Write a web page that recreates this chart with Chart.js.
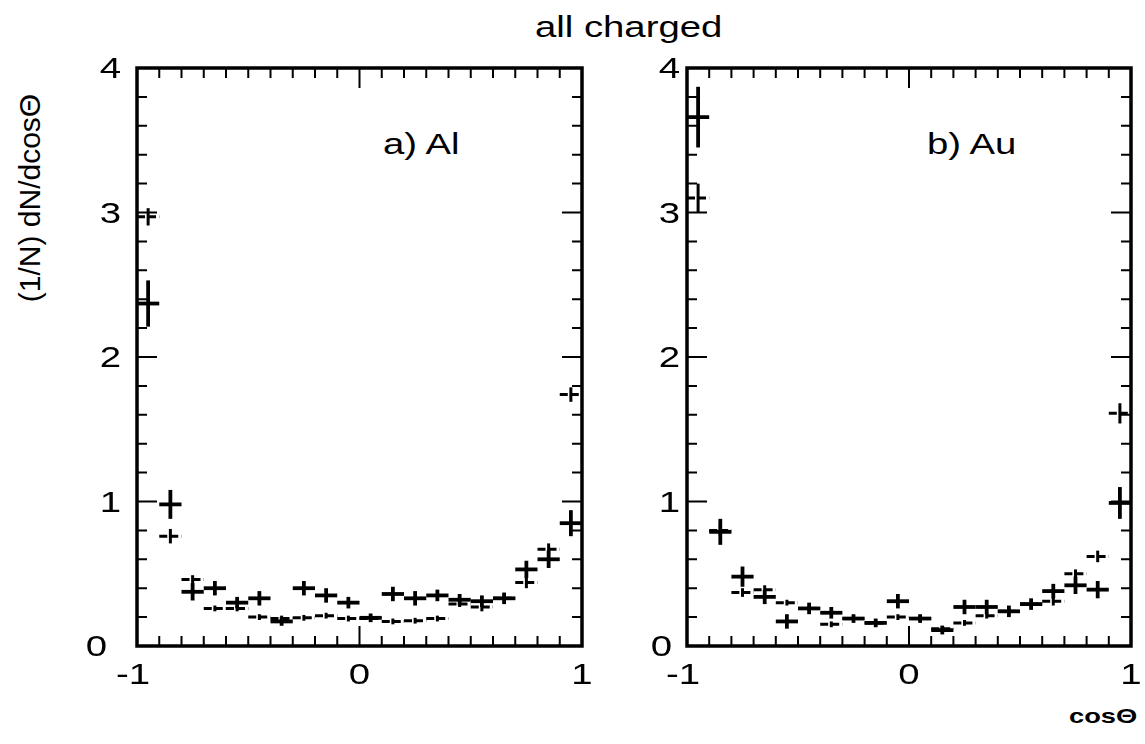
<!DOCTYPE html>
<html>
<head>
<meta charset="utf-8">
<script src="https://cdn.jsdelivr.net/npm/chart.js@4.4.1/dist/chart.umd.min.js"></script>
<style>
  html, body { margin: 0; padding: 0; background: #fff; overflow: hidden; }
  body { width: 1145px; height: 744px; position: relative; font-family: "Liberation Sans", Arial, Helvetica, sans-serif; color: #000; }
  .txt { position: absolute; white-space: nowrap; line-height: 1; transform-origin: 0 0; }
  canvas { position: absolute; }
</style>
</head>
<body>
<div class="txt" style="left:535px; top:13px; font-size:29px; transform: scaleX(1.32);">all charged</div>
<div class="txt" style="left:30px; top:198px; font-size:30px; transform-origin: 50% 50%; transform: translate(-50%,-50%) rotate(-90deg);">(1/N) dN/dcosΘ</div>
<div class="txt" style="left:1069px; top:705px; font-size:21px; font-weight:bold; transform: scaleX(1.3);">cosΘ</div>
<div class="txt" style="left:383px; top:130px; font-size:29px; transform: scaleX(1.32);">a) Al</div>
<div class="txt" style="left:927px; top:130px; font-size:29px; transform: scaleX(1.32);">b) Au</div>

<div style="position:absolute; left:60px; top:50px; width:540px; height:650px;"><canvas id="CHART-AL"></canvas></div>
<div style="position:absolute; left:610px; top:50px; width:535px; height:650px;"><canvas id="CHART-AU"></canvas></div>

<script>
// bin centres of cos(theta), 20 bins of width 0.1
const binCenters = [-0.95, -0.85, -0.75, -0.65, -0.55, -0.45, -0.35, -0.25, -0.15, -0.05,
                     0.05,  0.15,  0.25,  0.35,  0.45,  0.55,  0.65,  0.75,  0.85,  0.95];
const binHalfWidth = 0.05;

// a) Al
const alThick    = [2.37, 0.98, 0.375, 0.40, 0.30, 0.33, 0.17, 0.40, 0.35, 0.30, 0.195, 0.36, 0.33, 0.35, 0.32, 0.31, 0.33, 0.53, 0.60, 0.85];
const alThickErr = [0.16, 0.10, 0.06, 0.05, 0.04, 0.05, 0.03, 0.05, 0.05, 0.04, 0.03, 0.05, 0.05, 0.04, 0.04, 0.04, 0.04, 0.06, 0.06, 0.09];
const alThin     = [2.97, 0.76, 0.46, 0.26, 0.26, 0.20, 0.19, 0.195, 0.21, 0.19, 0.19, 0.17, 0.175, 0.19, 0.29, 0.27, 0.33, 0.44, 0.67, 1.74];
const alThinErr  = [0.06, 0.05, 0.03, 0.02, 0.02, 0.02, 0.02, 0.02, 0.02, 0.02, 0.02, 0.02, 0.02, 0.02, 0.02, 0.03, 0.03, 0.04, 0.04, 0.05];

// b) Au
const auThick    = [3.66, 0.79, 0.48, 0.34, 0.17, 0.26, 0.23, 0.19, 0.16, 0.31, 0.19, 0.11, 0.27, 0.27, 0.24, 0.29, 0.38, 0.42, 0.39, 0.99];
const auThickErr = [0.21, 0.09, 0.07, 0.05, 0.05, 0.04, 0.04, 0.03, 0.03, 0.05, 0.03, 0.03, 0.05, 0.05, 0.04, 0.04, 0.05, 0.06, 0.06, 0.11];
const auThin     = [3.10, 0.80, 0.37, 0.39, 0.30, 0.26, 0.15, 0.19, 0.16, 0.20, 0.19, 0.12, 0.16, 0.21, 0.24, 0.29, 0.31, 0.50, 0.62, 1.61];
const auThinErr  = [0.10, 0.04, 0.03, 0.03, 0.02, 0.02, 0.02, 0.02, 0.02, 0.02, 0.02, 0.02, 0.02, 0.02, 0.02, 0.02, 0.03, 0.03, 0.04, 0.07];

// axis tick labels
const xTickLabels = ['-1', '0', '1'];
const xTickValues = [-1, 0, 1];
const yTickLabels = ['0', '1', '2', '3', '4'];
const yTickValues = [0, 1, 2, 3, 4];

const FONT = '"Liberation Sans", Arial, Helvetica, sans-serif';

// 에러바 십자 그리기
const crossPlugin = {
  id: 'crosses',
  afterDatasetsDraw(chart) {
    const ctx = chart.ctx;
    const xs = chart.scales.x, ys = chart.scales.y;
    const area = chart.chartArea;
    ctx.save();
    ctx.beginPath();
    ctx.rect(area.left, area.top, area.right - area.left, area.bottom - area.top);
    ctx.clip();
    chart.data.datasets.forEach((ds, i) => {
      const meta = chart.getDatasetMeta(i);
      meta.data.forEach((pt, j) => {
        const c = ds.data[j].x;
        const v = ds.data[j].y;
        const e = ds.err[j];
        const x0 = xs.getPixelForValue(c - binHalfWidth);
        const x1 = xs.getPixelForValue(c + binHalfWidth);
        const y0 = ys.getPixelForValue(v + e);
        const y1 = ys.getPixelForValue(v - e);
        ctx.strokeStyle = '#000';
        ctx.lineWidth = ds.thick ? 3.8 : 3;
        ctx.setLineDash(ds.thick ? [] : [8, 3]);
        ctx.beginPath();
        ctx.moveTo(x0, pt.y);
        ctx.lineTo(x1, pt.y);
        ctx.stroke();
        ctx.setLineDash([]);
        ctx.beginPath();
        ctx.moveTo(pt.x, y0);
        ctx.lineTo(pt.x, y1);
        ctx.stroke();
      });
    });
    ctx.restore();
  }
};

// 프레임 + 안쪽 눈금 (4면) + 눈금 라벨 (가로로 늘린 글꼴)
const framePlugin = {
  id: 'frame',
  afterDraw(chart) {
    const ctx = chart.ctx;
    const xs = chart.scales.x, ys = chart.scales.y;
    const a = chart.chartArea;
    const opt = chart.options.plugins.frame;
    ctx.save();
    ctx.strokeStyle = '#000';
    ctx.lineWidth = 2;
    for (let k = 0; k <= 20; k++) {
      const px = xs.getPixelForValue(-1 + k * 0.1);
      const len = (k % 10 === 0) ? 20 : 10;
      ctx.beginPath();
      ctx.moveTo(px, a.bottom); ctx.lineTo(px, a.bottom - len);
      ctx.moveTo(px, a.top); ctx.lineTo(px, a.top + len);
      ctx.stroke();
    }
    for (let k = 0; k <= 20; k++) {
      const py = ys.getPixelForValue(k * 0.2);
      const len = (k % 5 === 0) ? 20 : 10;
      ctx.beginPath();
      ctx.moveTo(a.left, py); ctx.lineTo(a.left + len, py);
      ctx.moveTo(a.right, py); ctx.lineTo(a.right - len, py);
      ctx.stroke();
    }
    ctx.lineWidth = 3.5;
    ctx.strokeRect(a.left, a.top, a.right - a.left, a.bottom - a.top);

    // tick labels
    ctx.fillStyle = '#000';
    ctx.font = '30px ' + FONT;
    const sx = 1.28;
    ctx.textAlign = 'center';
    ctx.textBaseline = 'top';
    xTickValues.forEach((v, i) => {
      const px = xs.getPixelForValue(v) + (i === 0 ? -4 : 0);
      ctx.save();
      ctx.translate(px, a.bottom + 15);
      ctx.scale(sx, 1);
      ctx.fillText(xTickLabels[i], 0, 0);
      ctx.restore();
    });
    ctx.textAlign = 'right';
    ctx.textBaseline = 'middle';
    yTickValues.forEach((v, i) => {
      const py = ys.getPixelForValue(v) + 2;
      const gap = v === 0 ? opt.zeroGap : opt.gap;
      ctx.save();
      ctx.translate(a.left - gap, py);
      ctx.scale(sx, 1);
      ctx.fillText(yTickLabels[i], 0, 0);
      ctx.restore();
    });
    ctx.restore();
  }
};

const makePanel = (id, thick, thickErr, thin, thinErr, gap, zeroGap, rightPad) => {
  const toPts = arr => binCenters.map((c, i) => ({ x: c, y: arr[i] }));
  return new Chart(document.getElementById(id), {
    type: 'scatter',
    data: {
      datasets: [
        { data: toPts(thick), err: thickErr, thick: true, pointRadius: 0, showLine: false },
        { data: toPts(thin), err: thinErr, thick: false, pointRadius: 0, showLine: false }
      ]
    },
    options: {
      responsive: true,
      maintainAspectRatio: false,
      animation: false,
      layout: { padding: { top: 18, right: rightPad, left: 0, bottom: 0 } },
      plugins: {
        legend: { display: false },
        tooltip: { enabled: false },
        frame: { gap: gap, zeroGap: zeroGap }
      },
      scales: {
        x: {
          type: 'linear', min: -1, max: 1,
          grid: { display: false, drawTicks: false },
          border: { display: false },
          ticks: { display: false },
          afterFit(scale) { scale.height = 54; }
        },
        y: {
          type: 'linear', min: 0, max: 4,
          grid: { display: false, drawTicks: false },
          border: { display: false },
          ticks: { display: false },
          afterFit(scale) { scale.width = 77; }
        }
      }
    },
    plugins: [crossPlugin, framePlugin]
  });
};

makePanel('CHART-AL', alThick, alThickErr, alThin, alThinErr, 16, 30, 18);
makePanel('CHART-AU', auThick, auThickErr, auThin, auThinErr, 7, 15, 14);
</script>
</body>
</html>
